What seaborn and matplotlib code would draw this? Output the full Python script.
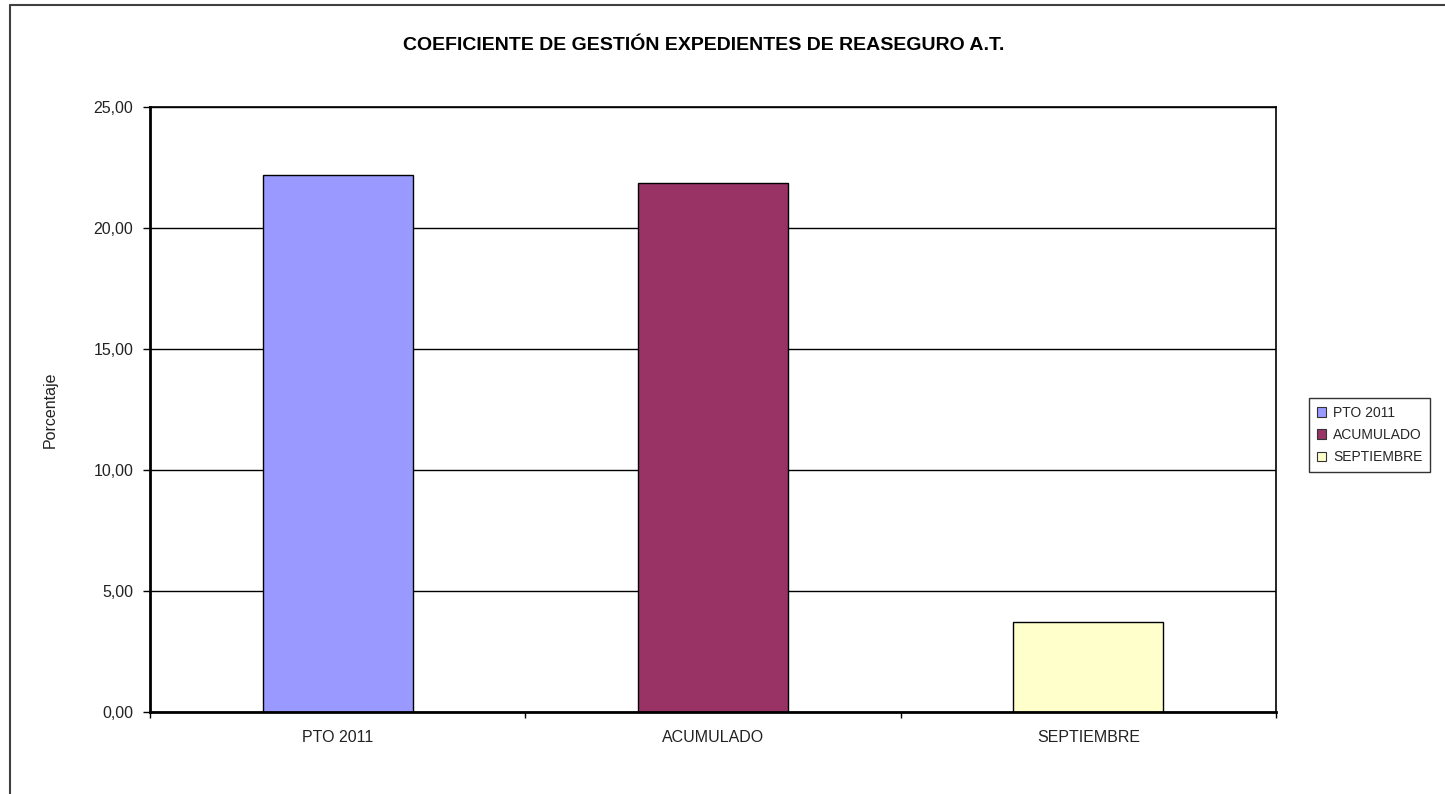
import matplotlib.pyplot as plt
import pandas as pd
import seaborn as sns
from matplotlib.lines import Line2D
from matplotlib.patches import Patch

# Datos
categorias = ['PTO 2011', 'ACUMULADO', 'SEPTIEMBRE']
valores = [22.21, 21.84, 3.71]
colores = ['#9999FF', '#993366', '#FFFFCC']
yticks = [0, 5, 10, 15, 20, 25]
ytick_labels = ['0,00', '5,00', '10,00', '15,00', '20,00', '25,00']

df = pd.DataFrame({'categoria': categorias, 'valor': valores})

sns.set_style('white')
plt.rcParams['font.family'] = ['Liberation Sans', 'DejaVu Sans']

W, H = 1445, 794
fig = plt.figure(figsize=(W / 100, H / 100), dpi=100)
ax = fig.add_axes([150 / W, 82 / H, 1126 / W, 605 / H])

sns.barplot(data=df, x='categoria', y='valor', hue='categoria', palette=colores,
            width=0.4, edgecolor='black', linewidth=1, saturation=1,
            legend=False, ax=ax)

ax.set_xlim(-0.5, 2.5)
ax.set_ylim(0, 25)
ax.set_yticks(yticks)
ax.set_yticklabels(ytick_labels)
ax.set_xticks([-0.5, 0.5, 1.5, 2.5], minor=True)
ax.set_xlabel('')
ax.set_ylabel('')

ax.set_axisbelow(True)
ax.yaxis.grid(True, color='black', linewidth=1)

for side in ['top', 'right']:
    ax.spines[side].set_color('black')
    ax.spines[side].set_linewidth(1.2)
for side in ['left', 'bottom']:
    ax.spines[side].set_color('black')
    ax.spines[side].set_linewidth(2)

ax.tick_params(axis='y', which='major', left=True, length=5, width=1,
               color='black', pad=7, labelsize=11.5, labelcolor='#222222')
ax.tick_params(axis='x', which='major', bottom=False, length=0, pad=13,
               labelsize=11.5, labelcolor='#222222')
ax.tick_params(axis='x', which='minor', bottom=True, length=4, width=1,
               color='black')

fig.text(50 / W, 1 - 409.5 / H, 'Porcentaje', rotation=90, ha='center',
         va='center', fontsize=11.5, color='#222222')
fig.text(704 / W, 1 - 45 / H, 'COEFICIENTE DE GESTIÓN EXPEDIENTES DE REASEGURO A.T.',
         ha='center', va='center', fontsize=14, fontweight='bold', color='black')

handles = [Patch(facecolor=c, edgecolor='#333333', linewidth=0.8) for c in colores]
leg = fig.legend(handles, categorias, loc='upper left',
                 bbox_to_anchor=(1309 / W, 1 - 398 / H), borderaxespad=0,
                 fontsize=10, frameon=True, fancybox=False, handlelength=0.7,
                 handleheight=0.7, handletextpad=0.5, labelspacing=0.6,
                 borderpad=0.55)
leg.get_frame().set_edgecolor('black')
leg.get_frame().set_linewidth(1)

# Marco del area del grafico (solo visible arriba e izquierda)
fig.add_artist(Line2D([10 / W, 1], [1 - 5 / H, 1 - 5 / H], color='#404040', linewidth=1.5))
fig.add_artist(Line2D([10 / W, 10 / W], [0, 1 - 5 / H], color='#404040', linewidth=1.5))

fig.savefig('out.png', dpi=100)
